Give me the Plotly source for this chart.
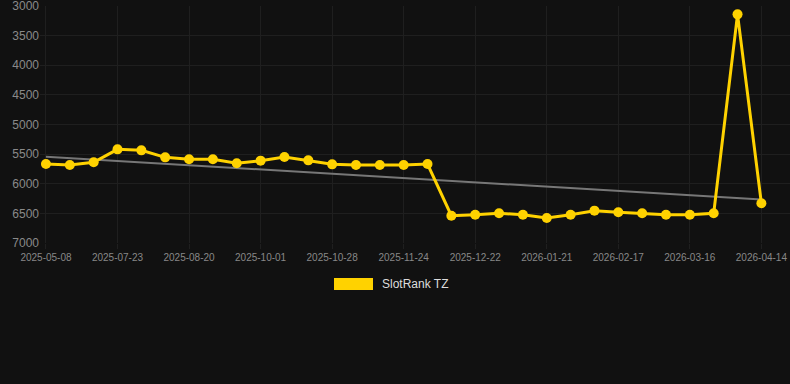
import numpy as np
import plotly.graph_objects as go

# category labels (every third shown on the axis, intermediates estimated)
dates = [
    "2025-05-08", "2025-06-02", "2025-06-28", "2025-07-23", "2025-08-01", "2025-08-10",
    "2025-08-20", "2025-09-02", "2025-09-16", "2025-10-01", "2025-10-10", "2025-10-19",
    "2025-10-28", "2025-11-06", "2025-11-15", "2025-11-24", "2025-12-03", "2025-12-12",
    "2025-12-22", "2026-01-01", "2026-01-11", "2026-01-21", "2026-01-30", "2026-02-08",
    "2026-02-17", "2026-02-26", "2026-03-07", "2026-03-16", "2026-03-26", "2026-04-05",
    "2026-04-14",
]
rank = [
    5667, 5683, 5638, 5419, 5436, 5554, 5587, 5587, 5655, 5610, 5549, 5605, 5672,
    5683, 5683, 5683, 5667, 6539, 6522, 6499, 6522, 6578, 6522, 6454, 6482, 6499,
    6522, 6522, 6499, 3140, 6330,
]
series_name = "SlotRank TZ"
y_ticks = [3000, 3500, 4000, 4500, 5000, 5500, 6000, 6500, 7000]

idx = np.arange(len(rank))
slope, intercept = np.polyfit(idx, rank, 1)
trend = slope * idx + intercept

gold = "#FFD200"
grid = "#1f1f1f"

fig = go.Figure()
fig.add_trace(go.Scatter(
    x=dates, y=trend, mode="lines", line=dict(color="#777777", width=2),
    hoverinfo="skip", showlegend=False,
))
fig.add_trace(go.Scatter(
    x=dates, y=rank, mode="lines+markers", name=series_name,
    line=dict(color=gold, width=3), marker=dict(color=gold, size=10),
    showlegend=False, cliponaxis=False,
))

fig.update_layout(
    width=790, height=384,
    margin=dict(l=40, r=0, t=6, b=141),
    paper_bgcolor="#111111", plot_bgcolor="#111111",
    font=dict(family="Arial, Liberation Sans, sans-serif", color="#888888"),
    showlegend=False,
    xaxis=dict(
        type="category", range=[-0.25, len(dates) - 1 + 1.2],
        tickvals=dates[::3], ticktext=dates[::3],
        showgrid=True, gridcolor=grid, gridwidth=1,
        ticks="outside", ticklen=5, tickcolor=grid,
        tickfont=dict(size=10, color="#888888"),
        zeroline=False, showline=False,
    ),
    yaxis=dict(
        range=[7000, 2999], tickvals=y_ticks,
        showgrid=True, gridcolor=grid, gridwidth=1,
        tickfont=dict(size=12, color="#8a8a8a"),
        ticklabeloverflow="allow",
        zeroline=False, showline=False, ticks="",
    ),
)

# legend drawn as box + text
fig.add_shape(type="rect", xref="paper", yref="paper",
              x0=(334 - 40) / 750, x1=(373 - 40) / 750,
              y0=(243 - 290) / 237, y1=(243 - 278) / 237,
              fillcolor=gold, line=dict(width=0))
fig.add_annotation(text=series_name, xref="paper", yref="paper",
                   x=(380 - 40) / 750, y=(243 - 284) / 237,
                   xanchor="left", yanchor="middle", showarrow=False,
                   font=dict(size=12, color="#DDDDDD"))

fig.write_html("out.html")
